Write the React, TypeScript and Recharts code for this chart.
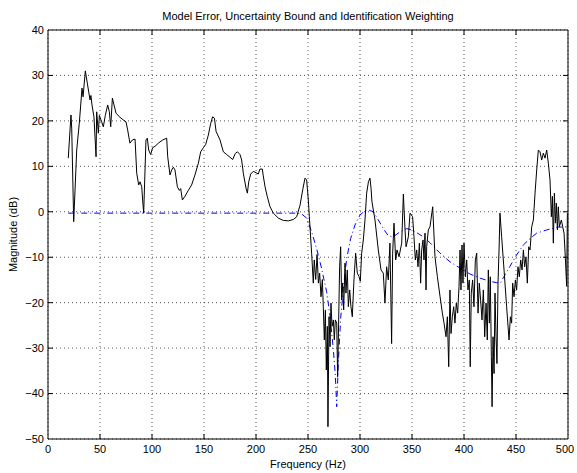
import React from "react";
import {
  LineChart,
  Line,
  XAxis,
  YAxis,
  CartesianGrid,
  ReferenceArea,
} from "recharts";

// model error (black): frequency in Hz / magnitude in dB
const errFreq = [
  19.5, 22.1, 22.8, 24.7, 27.6, 30.1, 32.7, 33.7, 35.9, 37.8,
  40.4, 41.3, 42.3, 44.2, 46.2, 46.8, 48.4, 49.4, 51.6, 53.2,
  55.1, 57.4, 59.0, 60.3, 61.9, 63.5, 65.4, 68.6, 72.4, 75.0,
  76.6, 78.8, 81.1, 83.7, 85.3, 87.2, 88.5, 90.1, 91.0, 92.0,
  94.2, 95.5, 96.8, 98.7, 100.6, 102.9, 106.1, 110.3, 114.1, 115.1,
  117.3, 118.9, 120.5, 122.1, 124.4, 126.3, 127.6, 129.2, 131.7, 134.9,
  138.1, 141.3, 144.6, 146.8, 149.4, 151.6, 154.2, 156.4, 158.3, 160.0,
  161.6, 163.2, 165.4, 168.6, 171.8, 175.0, 177.6, 180.0, 182.1, 184.6,
  186.2, 187.8, 190.4, 191.7, 193.0, 194.9, 197.4, 200.0, 202.2, 203.8,
  206.1, 207.0, 208.7, 210.9, 213.5, 216.7, 221.5, 226.3, 231.1, 235.9,
  239.1, 242.3, 244.9, 247.1, 248.7, 250.3, 251.3,
  253.5, 255.1, 256.0, 257.4, 258.7, 260.0, 261.2, 262.5, 263.8, 264.7,
  265.7, 266.7, 267.6, 268.6, 269.2, 270.2, 271.2, 272.1, 273.1, 274.4,
  275.3, 276.3, 277.6, 278.5, 279.5, 280.4, 281.4, 282.4, 283.3, 284.3,
  285.6, 286.5, 287.8, 288.8, 290.1, 291.3, 292.6, 294.2, 295.8, 297.4,
  299.0, 300.3, 301.6, 303.2, 304.8, 306.4, 308.1, 309.6, 310.6, 311.5,
  314.4, 317.6, 320.2, 322.4, 324.0, 325.6, 327.2, 328.8, 330.4, 331.4,
  332.7, 334.3, 335.6, 337.5, 340.1, 341.7, 343.3, 344.3, 346.5,
  348.1, 350.6, 351.9, 353.2, 354.5, 355.8, 357.1, 358.3, 359.3, 360.6,
  361.5, 362.5, 363.5, 364.1, 365.7, 367.3, 369.9, 372.1, 374.4, 377.0,
  379.2, 380.8, 382.7, 384.0, 385.3, 386.5, 387.5, 388.8, 390.1, 391.3,
  392.6, 393.9, 395.2, 396.2, 397.1, 398.1, 399.0, 400.0, 401.3, 402.6,
  403.8, 405.1, 406.0, 407.0, 408.3, 409.6, 410.9, 412.2, 413.5, 414.7,
  416.0, 417.3, 418.6, 419.9, 421.2, 422.4, 423.4, 424.4, 425.3, 426.3,
  427.0, 427.9, 428.9, 429.8, 430.8, 431.7, 432.7, 433.7, 434.6, 436.2,
  438.5, 441.0, 443.3, 444.6, 445.8, 446.8, 448.1, 449.4, 450.6, 451.9,
  453.2, 454.5, 455.8, 457.1, 458.3, 459.6, 460.9, 462.2, 463.5, 465.1,
  466.7, 468.3, 469.9, 471.5, 473.1, 474.7, 476.3, 477.9, 479.5, 481.1,
  482.7, 484.0, 485.0, 485.9, 486.9, 487.9, 488.8, 489.8, 490.7, 491.7,
  493.6, 494.9, 496.2, 497.4, 498.7, 499.4,
];
const errDb = [
  11.8, 21.3, 18.4, -2.2, 13.6, 19.5, 27.2, 25.3, 31.0, 28.3,
  24.6, 25.6, 23.5, 20.9, 12.1, 22.0, 17.3, 21.2, 19.8, 18.7,
  21.2, 23.5, 22.0, 18.7, 25.0, 23.5, 21.7, 20.9, 20.2, 19.8,
  18.0, 15.1, 15.8, 16.0, 8.5, 5.9, 6.6, 5.5, 2.6, -0.3,
  15.8, 16.2, 13.6, 12.6, 14.1, 14.4, 15.1, 15.8, 16.2, 12.1,
  8.1, 9.2, 9.8, 9.2, 5.5, 4.7, 5.1, 2.6, 3.4, 4.7,
  5.9, 8.1, 10.7, 13.2, 14.1, 14.8, 16.9, 19.4, 20.9, 20.6,
  17.7, 16.9, 15.8, 13.2, 12.6, 12.0, 11.5, 12.8, 13.2, 12.6,
  11.4, 8.5, 5.2, 4.1, 6.6, 8.3, 8.9, 8.6, 8.3, 9.4,
  9.4, 7.9, 5.5, 3.3, 1.1, -0.3, -1.4, -1.9, -2.0, -1.7,
  -1.1, 1.4, 4.8, 7.4, 7.0, 2.6, -1.1,
  -9.1, -15.7, -10.6, -14.9, -9.4, -15.7, -13.5, -18.7, -14.9, -20.9,
  -28.2, -21.6, -34.8, -25.2, -47.3, -23.1, -29.7, -20.1, -25.2, -23.8,
  -28.2, -23.8, -24.5, -36.3, -23.8, -12.1, -7.7, -19.4, -15.7, -21.6,
  -11.3, -17.9, -12.8, -20.9, -17.2, -20.9, -23.1, -15.0, -9.1, -13.5,
  -14.2, -15.3, -9.1, -6.2, -1.8, 4.1, 6.6, 7.4, 5.2, 2.2,
  -1.8, -8.4, -12.8, -13.5, -20.1, -12.1, -15.0, -6.9, -29.0, -9.1,
  -2.5, -10.6, -8.4, -9.9, -6.9, 3.9, -4.0, -7.7, -5.5,
  -0.3, -1.1, -5.5, -10.6, -8.4, -12.1, -6.9, -15.7, -8.4, -6.2,
  -10.6, -4.7, -17.2, -7.7, -4.0, -3.3, 1.1, -9.9, -14.3, -18.7,
  -22.3, -24.5, -27.5, -23.1, -34.1, -17.2, -26.8, -23.1, -20.9, -24.5,
  -20.1, -22.3, -16.5, -8.4, -17.2, -7.3, -15.7, -6.9, -14.3, -10.6,
  -17.2, -15.0, -34.1, -17.9, -15.0, -20.9, -10.6, -9.1, -22.3, -15.7,
  -19.4, -23.8, -17.2, -27.5, -20.1, -28.2, -12.8, -24.5, -14.3, -31.9,
  -42.9, -27.5, -35.6, -17.9, -27.5, -33.4, -15.7, -8.4, -0.3, -5.5,
  -12.8, -20.9, -28.2, -23.1, -24.5, -15.7, -18.7, -15.0, -17.2, -12.1,
  -14.3, -10.6, -12.8, -8.4, -12.1, -9.9, -15.7, -7.7, -8.4, -3.3,
  -1.8, 4.1, 9.2, 13.6, 13.2, 11.4, 12.9, 11.8, 13.6, 10.7,
  7.0, -1.1, 3.4, -6.9, 4.1, -2.5, 1.9, -4.0, 1.1, -3.3,
  -1.8, -3.3, -4.7, -9.9, -16.4, -0.3,
];

// uncertainty bound / identification weighting (blue dash-dot)
const boundFreq = [
  19.5, 240, 244, 248.7, 253.5, 258.3, 263.1, 267.9, 271.1, 274.3,
  276.3, 277.6, 279.2, 281.4, 284, 287.2, 291, 295.2, 300, 304.8,
  308, 312.8, 317.6, 322.4, 327.2, 332, 338.5, 344.9, 349.7, 354.5,
  360.9, 367.3, 376.9, 386.5, 396.2, 405.8, 415.4, 425, 431.4, 435,
  437.8, 444.2, 450.6, 457.1, 463.5, 469.9, 479.5, 489.1, 500,
];
const boundDb = [
  -0.3, -0.3, -0.5, -1.4, -4.4, -8.1, -12.5, -17.6, -22.8, -30.1,
  -36.0, -42.9, -33.1, -23.5, -16.9, -10.3, -5.9, -2.9, -0.7, 0.2,
  0.4, 0, -1.8, -3.7, -5.3, -5.5, -4.4, -3.7, -4.0, -4.6,
  -5.5, -6.8, -9.1, -11.0, -12.4, -13.7, -14.6, -15.3, -15.6, -15.7,
  -14.5, -12.0, -9.5, -7.3, -5.9, -4.7, -4.0, -3.4, -3.3,
];

const xTicks = [0, 50, 100, 150, 200, 250, 300, 350, 400, 450, 500];
const yTicks = [-50, -40, -30, -20, -10, 0, 10, 20, 30, 40];

const errData = errFreq.map((f, i) => ({ f, db: errDb[i] }));
const boundData = boundFreq.map((f, i) => ({ f, db: boundDb[i] }));

const W = 577;
const H = 473;
const BOX = { left: 48, right: 568, top: 30, bottom: 439 };
const FONT = "'Liberation Sans', Arial, Helvetica, sans-serif";
const TICK_LEN = 5;

// x tick: label below axis plus inward marks on bottom and top edges
const XTick = (props: any) => {
  const { x, y, payload } = props;
  const v = payload.value;
  const edge = v === xTicks[0] || v === xTicks[xTicks.length - 1];
  return (
    <g>
      {!edge && (
        <>
          <line x1={x} x2={x} y1={BOX.bottom} y2={BOX.bottom - TICK_LEN} stroke="#000" />
          <line x1={x} x2={x} y1={BOX.top} y2={BOX.top + TICK_LEN} stroke="#000" />
        </>
      )}
      <text x={x} y={y} dy="0.71em" textAnchor="middle" fontSize={11} fontFamily={FONT} fill="#000">
        {v}
      </text>
    </g>
  );
};

// y tick: label left of axis plus inward marks on left and right edges
const YTick = (props: any) => {
  const { x, y, payload } = props;
  const v = payload.value;
  const edge = v === yTicks[0] || v === yTicks[yTicks.length - 1];
  return (
    <g>
      {!edge && (
        <>
          <line x1={BOX.left} x2={BOX.left + TICK_LEN} y1={y} y2={y} stroke="#000" />
          <line x1={BOX.right} x2={BOX.right - TICK_LEN} y1={y} y2={y} stroke="#000" />
        </>
      )}
      <text x={x} y={y} dy="0.355em" textAnchor="end" fontSize={11} fontFamily={FONT} fill="#000">
        {v < 0 ? `\u2212${Math.abs(v)}` : v}
      </text>
    </g>
  );
};

export default function App() {
  return (
    <div style={{ position: "absolute", left: 0, top: 0, width: W, height: H, background: "#fff" }}>
      <LineChart
        width={W}
        height={H}
        margin={{ top: BOX.top, right: W - BOX.right, bottom: 0, left: 0 }}
      >
        <CartesianGrid stroke="#555" strokeDasharray="1 3" />
        <XAxis
          type="number"
          dataKey="f"
          domain={[0, 500]}
          ticks={xTicks}
          height={H - BOX.bottom}
          tickSize={0}
          tickMargin={6}
          tickLine={false}
          axisLine={false}
          tick={<XTick />}
          allowDataOverflow
          label={{
            value: "Frequency (Hz)",
            position: "insideBottom",
            offset: 5,
            fontSize: 11,
            fontFamily: FONT,
            fill: "#000",
          }}
        />
        <YAxis
          type="number"
          dataKey="db"
          domain={[-50, 40]}
          ticks={yTicks}
          width={BOX.left}
          tickSize={0}
          tickMargin={4}
          tickLine={false}
          axisLine={false}
          tick={<YTick />}
          allowDataOverflow
          label={{
            value: "Magnitude (dB)",
            angle: -90,
            position: "insideLeft",
            offset: 13,
            fontSize: 11,
            fontFamily: FONT,
            fill: "#000",
            style: { textAnchor: "middle" },
          }}
        />
        <Line
          data={boundData}
          dataKey="db"
          type="linear"
          stroke="#0000ff"
          strokeWidth={1}
          strokeDasharray="6 3 1 3"
          dot={false}
          isAnimationActive={false}
        />
        <Line
          data={errData}
          dataKey="db"
          type="linear"
          stroke="#000"
          strokeWidth={1}
          dot={false}
          isAnimationActive={false}
        />
        <ReferenceArea
          x1={0}
          x2={500}
          y1={-50}
          y2={40}
          fill="none"
          stroke="#000"
          strokeWidth={1}
          ifOverflow="visible"
          label={{
            value: "Model Error, Uncertainty Bound and Identification Weighting",
            position: "top",
            offset: 10,
            fontSize: 11,
            fontFamily: FONT,
            fill: "#000",
          }}
        />
      </LineChart>
    </div>
  );
}
